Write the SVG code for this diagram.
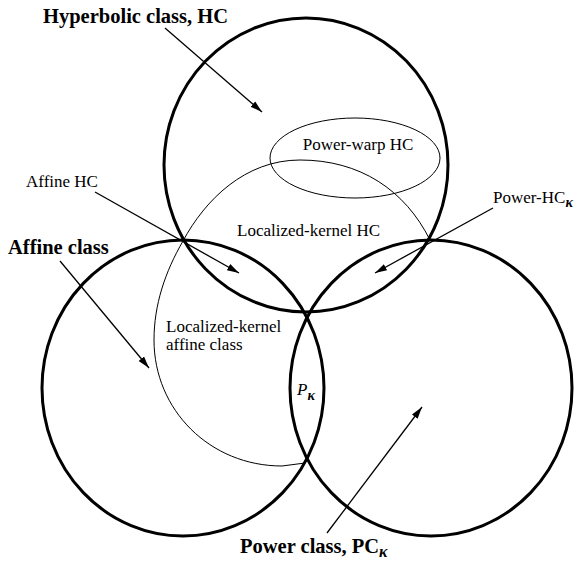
<svg xmlns="http://www.w3.org/2000/svg" width="579" height="561" viewBox="0 0 579 561">
<defs>
<style>
.big{fill:none;stroke:#000;stroke-width:3}
.thin{fill:none;stroke:#000;stroke-width:1}
.arr{fill:none;stroke:#000;stroke-width:1.3;marker-end:url(#ah)}
text{font-family:"Liberation Serif","Times New Roman",serif;fill:#000}
.b{font-weight:bold;font-size:20.5px}
.r{font-size:17px}
.k{font-weight:bold;font-style:italic}
</style>
<marker id="ah" markerUnits="userSpaceOnUse" markerWidth="13" markerHeight="8" refX="12" refY="4" orient="auto">
<path d="M0,0.5 L12,4 L0,7.5 z" fill="#000"/>
</marker>
</defs>
<g id="hc"><ellipse class="big" cx="306" cy="165" rx="142" ry="147"/></g>
<g id="affine"><ellipse class="big" cx="183" cy="388" rx="141" ry="148"/></g>
<g id="power"><ellipse class="big" cx="431" cy="388" rx="141" ry="148"/></g>
<g id="localized"><path class="thin" d="M430,240 C405,190 360,160 300,160 C245,160 205,200 183,241 C165,272 154,305 154,340 C154,410 210,466 282,466 L305,463"/></g>
<g id="powerwarp"><ellipse class="thin" cx="355" cy="158" rx="85" ry="40"/><text class="r" x="358" y="150" text-anchor="middle">Power-warp HC</text></g>
<g id="labels">
<text class="b" x="43" y="23">Hyperbolic class, HC</text>
<text class="r" x="26" y="187">Affine HC</text>
<text class="b" x="8" y="254">Affine class</text>
<text class="r" x="493" y="203">Power-HC<tspan class="k" font-size="14" dy="4">κ</tspan></text>
<text class="r" x="237" y="236">Localized-kernel HC</text>
<text class="r" x="166" y="332">Localized-kernel</text>
<text class="r" x="166" y="350">affine class</text>
<text class="r" x="297" y="395" font-style="italic">P<tspan class="k" font-size="14" dy="5">κ</tspan></text>
<text class="b" x="240" y="553">Power class, PC<tspan class="k" font-size="16" dy="4">κ</tspan></text>
</g>
<g id="connectors">
<line class="arr" x1="165" y1="28" x2="262" y2="112"/>
<line class="arr" x1="95" y1="192" x2="239" y2="273"/>
<line class="arr" x1="60" y1="261" x2="149" y2="368"/>
<line class="arr" x1="493" y1="208" x2="375" y2="273"/>
<line class="arr" x1="327" y1="533" x2="422" y2="407"/>
</g>
</svg>
